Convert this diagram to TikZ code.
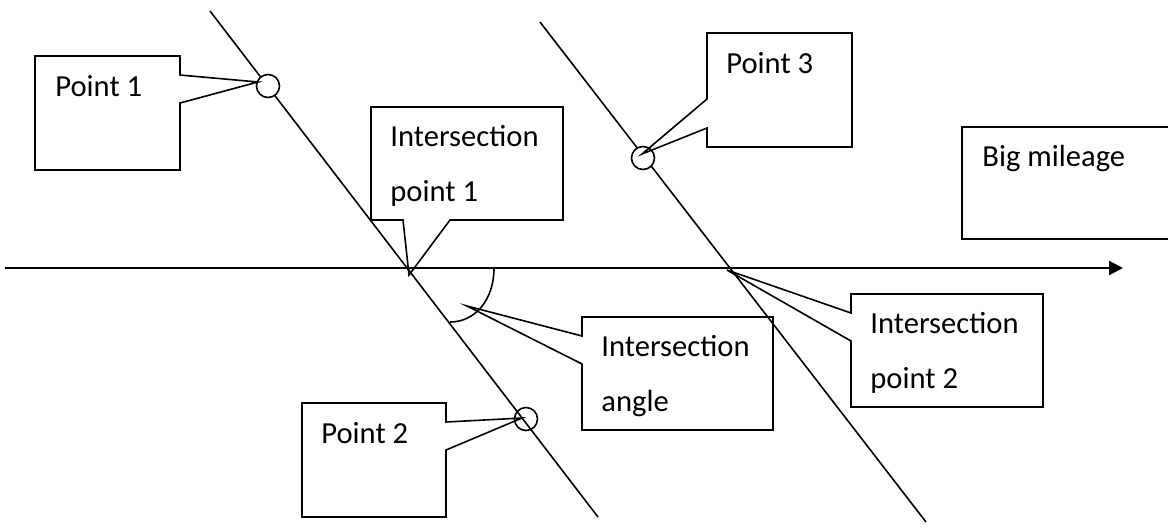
\documentclass[tikz,border=0pt]{standalone}
\usepackage{fontspec}
\setmainfont{Carlito}
\usepackage{xcolor}
\usepackage{tikz}
\usetikzlibrary{arrows.meta,calc,positioning}
\definecolor{ink}{HTML}{000000}
\newcommand{\callfont}{\fontsize{15.3}{27.5}\selectfont}
\tikzset{thin/.style={draw=ink,line width=.8pt},axisline/.style={-{Triangle[length=7pt,width=7pt]},draw=ink,line width=1.25pt},dot/.style={circle,draw=ink,line width=.8pt,minimum size=11.5pt,inner sep=0pt},callout/.style={draw=ink,line width=.8pt,line join=miter},lbl/.style={anchor=base west,inner sep=0pt,align=left,font=\callfont}}

\begin{document}
\begin{tikzpicture}[x=.5pt,y=-.5pt]
 \useasboundingbox (0,0) rectangle (1168,527);
 % the two lines and the axis
 \coordinate (l1a) at (210,11); \coordinate (l1b) at (598,517);
 \coordinate (l2a) at (540,22); \coordinate (l2b) at (926,522);
 \coordinate (ax0) at (5,268); \coordinate (ax1) at (1123,268);
 \coordinate (x1) at (409,275); \coordinate (x2) at (727,270); \coordinate (ang) at (467,306);
 \draw[thin] (l1a) -- (l1b); \draw[thin] (l2a) -- (l2b);
 \draw[axisline] (ax0) -- (ax1);
 \draw[thin] (494,268) .. controls (494,300) and (475,322) .. (450,322);
 \node[dot,fill=white] (c1) at (268,86) {}; \node[dot] (c2) at (526,419) {}; \node[dot,fill=white] (c3) at (643,158) {};
 % callouts (multi-line labels sit on their last baseline)
 \draw[callout] (180,75) -- (180,56) -- (35,56) -- (35,170) -- (180,170) -- (180,103) -- ([shift={(-10,-4)}]c1.center) -- cycle;
 \node[lbl] (p1) at (55,96) {Point 1};
 \draw[callout] (403,220) -- (371,220) -- (371,107) -- (563,107) -- (563,220) -- (450,220) -- (x1) -- cycle;
 \node[lbl] (ip1) at (390,201) {Intersection\\point 1};
 \draw[callout] (707,99) -- (707,33) -- (852,33) -- (852,147) -- (707,147) -- (707,128) -- ([shift={(-1,-4)}]c3.center) -- cycle;
 \node[lbl] (p3) at (726,73) {Point 3};
 \draw[callout] (1168,127) -- (962,127) -- (962,239) -- (1168,239);
 \node[lbl] (big) at (982,166) {Big mileage};
 \draw[callout] (851,313) -- (851,294) -- (1043,294) -- (1043,407) -- (851,407) -- (851,341) -- (x2) -- cycle;
 \node[lbl] (ip2) at (870,388) {Intersection\\point 2};
 \draw[callout] (582,336) -- (582,317) -- (773,317) -- (773,430) -- (582,430) -- (582,364) -- (ang) -- cycle;
 \node[lbl] (ia) at (601,411) {Intersection\\angle};
 \draw[callout] (446,422) -- (446,403) -- (302,403) -- (302,517) -- (446,517) -- (446,450) -- ([shift={(-4,-1)}]c2.center) -- cycle;
 \node[lbl] (p2) at (321,443) {Point 2};
\end{tikzpicture}
\end{document}
